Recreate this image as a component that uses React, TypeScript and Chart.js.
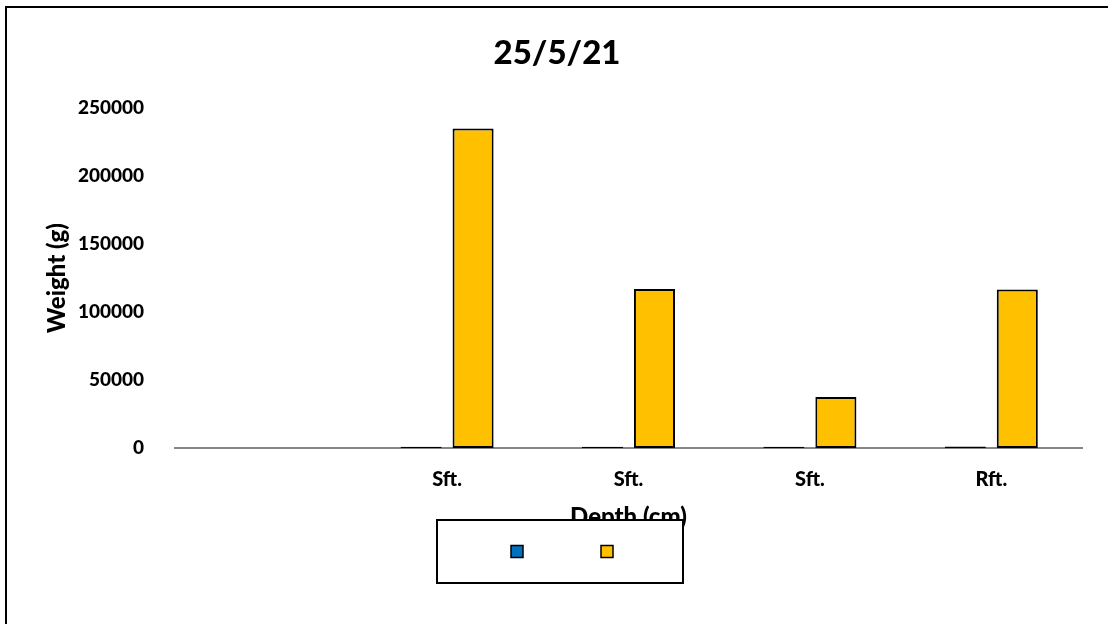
import { useEffect, useRef } from "react";
import { Chart, registerables } from "chart.js";

Chart.register(...registerables);

// Chart content
const chartTitle = "25/5/21";
const xAxisTitle = "Depth (cm)";
const yAxisTitle = "Weight (g)";
const categories = ["", "Sft.", "Sft.", "Sft.", "Rft."];
const seriesBlue: (number | null)[] = [null, 1000, 900, 1000, 1100];
const seriesGold: (number | null)[] = [null, 235000, 117000, 37500, 116500];
const yMin = 0;
const yMax = 250000;
const yStep = 50000;

const FONT = "Lato, 'Open Sans', sans-serif";
const WEIGHT = 900;
const W = 1108;
const H = 624;

// Outer frame, the title and the boxed legend that sits over the axis title
const frameLegendPlugin = {
  id: "frameLegend",
  afterDraw(chart: Chart) {
    const ctx = chart.ctx;
    ctx.save();
    ctx.strokeStyle = "#000";
    ctx.lineWidth = 2;
    ctx.beginPath();
    ctx.moveTo(6, H);
    ctx.lineTo(6, 7);
    ctx.lineTo(W, 7);
    ctx.stroke();

    ctx.fillStyle = "#000";
    ctx.font = `${WEIGHT} 33px ${FONT}`;
    ctx.textAlign = "center";
    ctx.textBaseline = "middle";
    ctx.fillText(chartTitle, 557, 53);

    const box = { x: 437, y: 520, w: 246, h: 63 };
    ctx.fillStyle = "#fff";
    ctx.fillRect(box.x, box.y, box.w, box.h);
    ctx.strokeRect(box.x, box.y, box.w, box.h);

    const size = 12;
    const cy = box.y + box.h / 2;
    chart.data.datasets.forEach((ds: any, i: number) => {
      const cx = 517 + i * 90;
      ctx.fillStyle = ds.backgroundColor;
      ctx.fillRect(cx - size / 2, cy - size / 2, size, size);
      ctx.lineWidth = 1.5;
      ctx.strokeStyle = "#000";
      ctx.strokeRect(cx - size / 2, cy - size / 2, size, size);
    });
    ctx.restore();
  },
};

export default function App() {
  const canvasRef = useRef<HTMLCanvasElement | null>(null);

  useEffect(() => {
    if (!canvasRef.current) return;
    const chart = new Chart(canvasRef.current, {
      type: "bar",
      data: {
        labels: categories,
        datasets: [
          {
            label: "",
            data: seriesBlue,
            backgroundColor: "#0070C0",
            borderColor: "#000",
            borderWidth: 2,
            borderSkipped: false,
            categoryPercentage: 0.573,
            barPercentage: 0.79,
          },
          {
            label: "",
            data: seriesGold,
            backgroundColor: "#FFC000",
            borderColor: "#000",
            borderWidth: 2,
            borderSkipped: false,
            categoryPercentage: 0.573,
            barPercentage: 0.79,
          },
        ],
      },
      options: {
        responsive: false,
        animation: false,
        layout: { padding: { left: 0, right: 26, top: 108, bottom: 92 } },
        plugins: {
          legend: { display: false },
          tooltip: { enabled: false },
          title: { display: false },
        },
        scales: {
          x: {
            grid: { display: false },
            border: { display: true, color: "#868686", width: 2 },
            ticks: {
              color: "#000",
              padding: 12,
              font: { family: FONT, size: 20, weight: WEIGHT },
            },
            title: {
              display: true,
              text: xAxisTitle,
              color: "#000",
              font: { family: FONT, size: 24, weight: WEIGHT, lineHeight: 1.2 },
              padding: { top: 0, bottom: 0 },
            },
            afterFit(scale: any) {
              scale.height = 84;
            },
          },
          y: {
            min: yMin,
            max: yMax,
            grid: { display: false },
            border: { display: false },
            ticks: {
              stepSize: yStep,
              color: "#000",
              padding: 23,
              font: { family: FONT, size: 19, weight: WEIGHT },
              callback: (v: any) => String(v),
            },
            title: {
              display: true,
              text: yAxisTitle,
              color: "#000",
              font: { family: FONT, size: 24, weight: WEIGHT, lineHeight: 1.2 },
              padding: { top: 43, bottom: 0 },
            },
            afterFit(scale: any) {
              scale.width = 175;
            },
          },
        },
      },
      plugins: [frameLegendPlugin],
    });
    return () => chart.destroy();
  }, []);

  return (
    <div style={{ position: "absolute", left: 0, top: 0, width: W, height: H, background: "#fff" }}>
      <canvas ref={canvasRef} width={W} height={H} />
    </div>
  );
}
